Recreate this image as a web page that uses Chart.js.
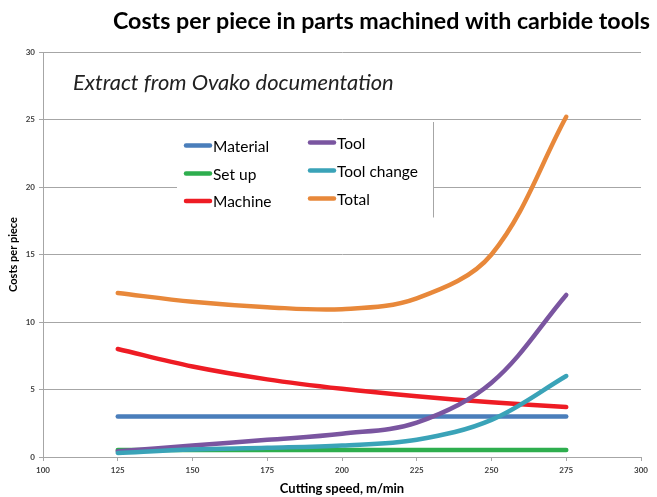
<!DOCTYPE html>
<html>
<head>
<meta charset="utf-8">
<script src="https://cdn.jsdelivr.net/npm/chart.js@4/dist/chart.umd.min.js"></script>
<style>
html,body{margin:0;padding:0;background:#fff;}
canvas{display:block;}
</style>
</head>
<body>
<canvas id="c" width="657" height="497"></canvas>
<script>
// ---- data ----
const speeds = [125, 150, 175, 200, 225, 250, 275];
const material = [3.0, 3.0, 3.0, 3.0, 3.0, 3.0, 3.0];
const setUp = [0.52, 0.52, 0.52, 0.52, 0.52, 0.52, 0.52];
const machine = [8.0, 6.7, 5.75, 5.05, 4.5, 4.05, 3.7];
const tool = [0.42, 0.85, 1.27, 1.72, 2.55, 5.5, 12.0];
const toolChange = [0.3, 0.55, 0.68, 0.85, 1.28, 2.75, 6.0];
const total = [12.15, 11.5, 11.1, 10.95, 11.75, 15.0, 25.2];
const seriesNames = ['Material', 'Set up', 'Machine', 'Tool', 'Tool change', 'Total'];
const seriesValues = [material, setUp, machine, tool, toolChange, total];
const seriesColors = ['#4A7EBB', '#2EAE4E', '#EE1C24', '#7A55A0', '#3AA3B8', '#E8883A'];
const xTicks = [100, 125, 150, 175, 200, 225, 250, 275, 300];
const yTicks = [0, 5, 10, 15, 20, 25, 30];
const titleText = 'Costs per piece in parts machined with carbide tools';
const subtitleText = 'Extract from Ovako documentation';

const FONT = 'Lato, "Open Sans", sans-serif';

function fitFont(ctx, text, style, target) {
  let size = 20;
  ctx.font = style + ' ' + size + 'px ' + FONT;
  const w = ctx.measureText(text).width;
  size = size * target / w;
  return style + ' ' + size.toFixed(2) + 'px ' + FONT;
}

const decor = {
  id: 'decor',
  beforeDatasetsDraw(chart) {
    const ctx = chart.ctx;
    ctx.save();
    // legend background box
    ctx.fillStyle = '#ffffff';
    ctx.fillRect(177, 122, 256, 96);
    ctx.strokeStyle = '#a6a6a6';
    ctx.lineWidth = 1;
    ctx.beginPath();
    ctx.moveTo(433.5, 122);
    ctx.lineTo(433.5, 217.5);
    ctx.stroke();
    ctx.restore();
  },
  afterDraw(chart) {
    const ctx = chart.ctx;
    ctx.save();
    // title
    ctx.fillStyle = '#000';
    ctx.font = fitFont(ctx, titleText, 'bold', 537);
    ctx.textAlign = 'right';
    ctx.textBaseline = 'alphabetic';
    ctx.fillText(titleText, 650, 29);
    // subtitle
    ctx.font = fitFont(ctx, subtitleText, 'italic', 321);
    ctx.textAlign = 'left';
    ctx.fillStyle = '#222';
    ctx.fillText(subtitleText, 73, 90);
    // legend (two columns, column-major)
    const cols = [{lx: 186, tx: 213, ys: [145.5, 173.5, 201]}, {lx: 310, tx: 337, ys: [142.5, 170.5, 198.5]}];
    ctx.font = '15.5px ' + FONT;
    ctx.textBaseline = 'middle';
    chart.data.datasets.forEach((ds, i) => {
      const col = cols[Math.floor(i / 3)];
      const y = col.ys[i % 3];
      ctx.strokeStyle = ds.borderColor;
      ctx.lineWidth = 4.5;
      ctx.lineCap = 'round';
      ctx.beginPath();
      ctx.moveTo(col.lx, y);
      ctx.lineTo(col.lx + 24, y);
      ctx.stroke();
      ctx.fillStyle = '#000';
      ctx.fillText(ds.label, col.tx, y + 1);
    });
    ctx.restore();
  }
};

const datasets = seriesNames.map((name, i) => ({
  label: name,
  data: speeds.map((s, k) => ({x: s, y: seriesValues[i][k]})),
  borderColor: seriesColors[i],
  backgroundColor: seriesColors[i],
  borderWidth: 4.5,
  borderCapStyle: 'round',
  pointRadius: 0,
  tension: 0.35,
  fill: false,
  order: seriesNames.length - i
}));

new Chart(document.getElementById('c'), {
  type: 'line',
  data: {datasets},
  plugins: [decor],
  options: {
    responsive: false,
    animation: false,
    devicePixelRatio: 1,
    layout: {padding: {top: 52, right: 16, left: 0, bottom: 0}},
    plugins: {legend: {display: false}, tooltip: {enabled: false}, title: {display: false}},
    scales: {
      x: {
        type: 'linear',
        min: 100, max: 300,
        afterBuildTicks(scale) { scale.ticks = xTicks.map(v => ({value: v})); },
        afterFit(scale) { scale.height = 40; },
        grid: {drawOnChartArea: false, drawTicks: true, tickLength: 4, color: '#a6a6a6'},
        border: {color: '#a6a6a6'},
        ticks: {font: {family: FONT, size: 8, weight: 'bold'}, color: '#404040', padding: 5, maxRotation: 0},
        title: {display: true, text: 'Cutting speed, m/min', font: {family: FONT, size: 13, weight: 'bold'}, color: '#000', padding: {top: 0, bottom: 0}}
      },
      y: {
        min: 0, max: 30,
        afterBuildTicks(scale) { scale.ticks = yTicks.map(v => ({value: v})); },
        afterFit(scale) { scale.width = 43; },
        grid: {color: '#a6a6a6', tickLength: 4},
        border: {color: '#a6a6a6'},
        ticks: {font: {family: FONT, size: 8, weight: 'bold'}, color: '#404040', padding: 4},
        title: {display: true, text: 'Costs per piece', font: {family: FONT, size: 11, weight: 'bold'}, color: '#000', padding: {top: 7, bottom: 0}}
      }
    }
  }
});
</script>
</body>
</html>
